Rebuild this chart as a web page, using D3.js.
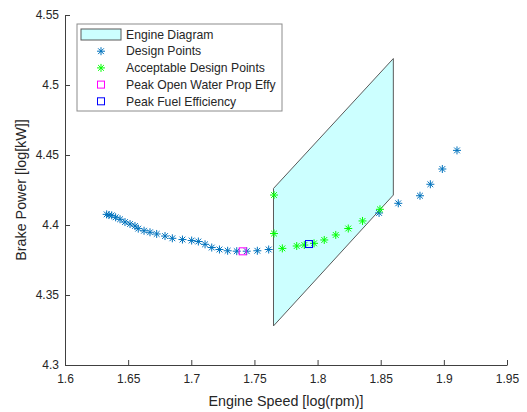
<!DOCTYPE html>
<html>
<head>
<meta charset="utf-8">
<script src="https://cdn.jsdelivr.net/npm/d3@7"></script>
<style>
  body { margin: 0; background: #fff; }
  text { font-family: "Liberation Sans", Arial, sans-serif; fill: #262626; }
</style>
</head>
<body>
<script>
// design points (blue asterisks)
var designX = [1.6330, 1.6348, 1.6370, 1.6401, 1.6436, 1.6475, 1.6515, 1.6554, 1.6580, 1.6626,
               1.6673, 1.6726, 1.6792, 1.6850, 1.6930, 1.7003, 1.7056, 1.7109, 1.7162, 1.7223,
               1.7288, 1.7360, 1.7439, 1.7523, 1.7613, 1.8487, 1.8639, 1.8811, 1.8893, 1.8988, 1.9104];
var designY = [4.4076, 4.4071, 4.4069, 4.4055, 4.4041, 4.4021, 4.4007, 4.3993, 4.3974, 4.3959,
               4.3948, 4.3936, 4.3921, 4.3905, 4.3896, 4.3889, 4.3882, 4.3862, 4.3839, 4.3825,
               4.3816, 4.3813, 4.3813, 4.3816, 4.3825, 4.4086, 4.4155, 4.4209, 4.4291, 4.4400, 4.4533];

// acceptable design points (green asterisks)
var okX = [1.7655, 1.7655, 1.7721, 1.7835, 1.7895, 1.7972, 1.8053, 1.8144, 1.8243, 1.8356, 1.8494];
var okY = [4.4214, 4.3939, 4.3833, 4.3850, 4.3857, 4.3869, 4.3893, 4.3929, 4.3975, 4.4029, 4.4112];

// engine diagram corners
var engX = [1.7651, 1.8600, 1.8600, 1.7651];
var engY = [4.4261, 4.5189, 4.4214, 4.3279];

var peakProp = [1.7407, 4.3812];
var peakFuel = [1.7932, 4.3864];

var xTicks = [1.6, 1.65, 1.7, 1.75, 1.8, 1.85, 1.9, 1.95];
var yTicks = [4.3, 4.35, 4.4, 4.45, 4.5, 4.55];

var legendLabels = ["Engine Diagram", "Design Points", "Acceptable Design Points",
                    "Peak Open Water Prop Effy", "Peak Fuel Efficiency"];

var width = 527, height = 412;
var margin = {left: 65, right: 20, top: 15, bottom: 47};

var svg = d3.select("body").append("svg")
    .attr("width", width)
    .attr("height", height);

var x = d3.scaleLinear().domain([1.6, 1.95]).range([margin.left, width - margin.right]);
var y = d3.scaleLinear().domain([4.3, 4.55]).range([height - margin.bottom, margin.top]);

var blue = "#0072BD", green = "#00FF00";

//engine diagram patch
svg.append("path")
    .datum(d3.zip(engX, engY))
    .attr("d", function(d){
        return "M" + d.map(function(p){ return x(p[0]) + "," + y(p[1]); }).join("L") + "Z";
    })
    .attr("fill", "#ccffff")
    .attr("stroke", "#5a5a5a")
    .attr("stroke-width", 1);

//asterisk marker
function star(g, cx, cy, col, r){
    var s = g.append("g").attr("transform", "translate(" + cx + "," + cy + ")")
        .attr("stroke", col).attr("stroke-width", 1);
    var d = r * 0.72;
    s.append("line").attr("x1", -r).attr("x2", r).attr("y1", 0).attr("y2", 0);
    s.append("line").attr("x1", 0).attr("x2", 0).attr("y1", -r).attr("y2", r);
    s.append("line").attr("x1", -d).attr("x2", d).attr("y1", -d).attr("y2", d);
    s.append("line").attr("x1", -d).attr("x2", d).attr("y1", d).attr("y2", -d);
}

var pts = svg.append("g");
d3.zip(designX, designY).forEach(function(p){ star(pts, x(p[0]), y(p[1]), blue, 4); });
d3.zip(okX, okY).forEach(function(p){ star(pts, x(p[0]), y(p[1]), green, 4); });

function square(g, cx, cy, col){
    g.append("rect").attr("x", cx - 3.5).attr("y", cy - 3.5)
        .attr("width", 7).attr("height", 7)
        .attr("fill", "none").attr("stroke", col).attr("stroke-width", 1);
}
square(pts, x(peakProp[0]), y(peakProp[1]), "#FF00FF");
square(pts, x(peakFuel[0]), y(peakFuel[1]), "#0000FF");

//axes
var xAxis = svg.append("g")
    .attr("transform", "translate(0," + (height - margin.bottom) + ")")
    .call(d3.axisBottom(x).tickValues(xTicks).tickSizeInner(-5).tickSizeOuter(0).tickPadding(9)
        .tickFormat(d3.format("")));
var yAxis = svg.append("g")
    .attr("transform", "translate(" + margin.left + ",0)")
    .call(d3.axisLeft(y).tickValues(yTicks).tickSizeInner(-5).tickSizeOuter(0).tickPadding(6)
        .tickFormat(d3.format("")));
[xAxis, yAxis].forEach(function(a){
    a.select(".domain").attr("stroke", "#404040");
    a.selectAll(".tick line").attr("stroke", "#404040");
    a.selectAll(".tick text").style("font-size", "12px").attr("fill", "#262626");
});

svg.append("text")
    .attr("x", x(1.775)).attr("y", 406)
    .attr("text-anchor", "middle")
    .style("font-size", "14.3px")
    .text("Engine Speed [log(rpm)]");

svg.append("text")
    .attr("transform", "translate(26," + y(4.425) + ") rotate(-90)")
    .attr("text-anchor", "middle")
    .style("font-size", "14.3px")
    .text("Brake Power [log[kW]]");

//legend
var leg = svg.append("g").attr("transform", "translate(77,24)");
leg.append("rect").attr("width", 205).attr("height", 87)
    .attr("fill", "#fff").attr("stroke", "#8c8c8c").attr("stroke-width", 1);
legendLabels.forEach(function(lab, i){
    var ly = 10.5 + i * 16.7;
    leg.append("text").attr("x", 49).attr("y", ly).attr("dy", "0.35em")
        .style("font-size", "12.2px").text(lab);
});
leg.append("rect").attr("x", 4).attr("y", 5).attr("width", 40).attr("height", 11)
    .attr("fill", "#ccffff").attr("stroke", "#5a5a5a");
star(leg, 24, 10.5 + 16.7, blue, 4);
star(leg, 24, 10.5 + 2 * 16.7, green, 4);
square(leg, 24, 10.5 + 3 * 16.7, "#FF00FF");
square(leg, 24, 10.5 + 4 * 16.7, "#0000FF");
</script>
</body>
</html>
